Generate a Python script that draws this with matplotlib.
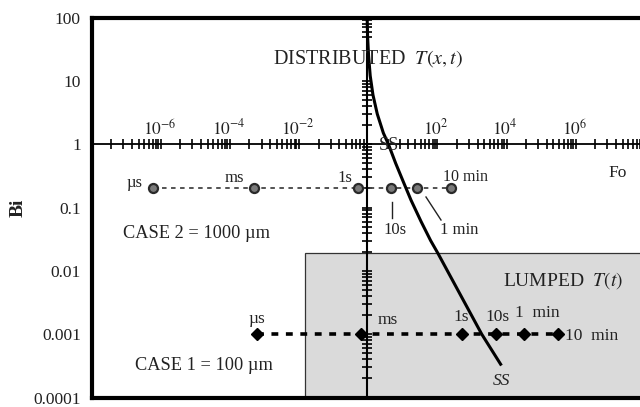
import numpy as np
import matplotlib
matplotlib.use("Agg")
import matplotlib.pyplot as plt
from matplotlib.patches import Rectangle

plt.rcParams['font.family'] = ['Liberation Serif', 'DejaVu Serif']
plt.rcParams['mathtext.fontset'] = 'stix'

# ---------------- data ----------------
# steady-state (SS) boundary: Bi vs Fo
ss_bi = [100, 50, 25, 12, 6, 3, 1.5, 1.0, 0.5, 0.25, 0.13, 0.06, 0.03, 0.019, 0.001, 0.00032]
ss_fo = [1.02, 1.05, 1.12, 1.25, 1.5, 2.0, 3.0, 4.2, 6.8, 11.5, 19, 37, 70, 113, 2100, 7800]

# time markers
case2_labels = ["µs", "ms", "1s", "10s", "1 min", "10 min"]
case2_bi = 0.2
case2_fo = [6.6e-7, 5.5e-4, 0.56, 4.9, 29, 280]
case1_labels = ["µs", "ms", "1s", "10s", "1  min", "10  min"]
case1_bi = 0.001
case1_fo = [6.5e-4, 0.66, 550, 5600, 35000, 3.4e5]

# lumped region bounds
lumped_fo_min = 0.016
lumped_bi_max = 0.019

# axes
ytick_vals = [1e-4, 1e-3, 1e-2, 1e-1, 1, 10, 100]
ytick_labels = ["0.0001", "0.001", "0.01", "0.1", "1", "10", "100"]
fo_label_exps = [-6, -4, -2, 2, 4, 6]

W, H = 640, 407
fig = plt.figure(figsize=(W / 100, H / 100), dpi=100)
ax = fig.add_axes([92 / W, (H - 397.5) / H, (W - 92) / W, 380 / H])
ax.set_xscale('log')
ax.set_yscale('log')
ax.set_xlim(10 ** -7.95, 10 ** 7.9)
ax.set_ylim(1e-4, 100)

for s in ['left', 'top', 'bottom']:
    ax.spines[s].set_linewidth(3)
ax.spines['right'].set_visible(False)
ax.set_xticks([])
ax.set_xticks([], minor=True)
ax.set_yticks(ytick_vals)
ax.set_yticklabels(ytick_labels, fontsize=12.5, color='#222222')
ax.yaxis.set_minor_locator(matplotlib.ticker.NullLocator())
ax.tick_params(axis='y', length=0, pad=8)
ax.set_ylabel("Bi", fontsize=14, fontweight='bold', labelpad=5, color='#222222')

# lumped region
ax.add_patch(Rectangle((lumped_fo_min, 1e-5), 1e10, lumped_bi_max - 1e-5,
                       facecolor='#dadada', edgecolor='#333333', lw=0.9, zorder=0))

# Fo axis (at Bi = 1) and Bi axis (at Fo = 1)
ax.axhline(1, color='black', lw=1.3, zorder=2)
ax.axvline(1, color='black', lw=1.5, zorder=2)

# Fo axis ticks: log-cycle per two decades
minor_fo = []
major_fo = []
for e in range(-8, 9, 2):
    if e != 0:
        major_fo.append(10.0 ** e)
    for k in range(2, 10):
        minor_fo.append(10.0 ** (e + 2 * np.log10(k)))
ax.plot(minor_fo, [1] * len(minor_fo), ls='none', marker='|', ms=6.5, mew=1.2,
        color='black', zorder=3)
for f in (10 ** -0.04, 10 ** 0.04):
    ax.plot([m * f for m in major_fo], [1] * len(major_fo), ls='none', marker='|',
            ms=7.5, mew=1.2, color='black', zorder=3)
for e in fo_label_exps:
    ax.text(10.0 ** e, 1.22, r"$10^{%d}$" % e, fontsize=12.5, ha='center', va='bottom',
            color='#222222')

# Bi ticks on the vertical line
bi_ticks = []
for e in range(-4, 2):
    for k in range(1, 10):
        v = k * 10.0 ** e
        if 18 < v < 50:
            continue
        bi_ticks.append(v)
ax.plot([1] * len(bi_ticks), bi_ticks, ls='none', marker='_', ms=7, mew=1.2,
        color='black', zorder=3)

# SS curve
ax.plot(ss_fo, ss_bi, color='black', lw=2.2, zorder=5, solid_capstyle='butt')

# Case 2 (circles)
ax.plot(case2_fo, [case2_bi] * len(case2_fo), color='#444444', lw=1.3,
        dashes=(2.5, 2.5), zorder=4)
ax.plot(case2_fo, [case2_bi] * len(case2_fo), ls='none', marker='o', ms=6.5,
        mfc='#7a7a7a', mec='#2a2a2a', mew=1.6, zorder=6)

# Case 1 (diamonds)
ax.plot(case1_fo, [case1_bi] * len(case1_fo), color='black', lw=2.6,
        dashes=(1.9, 2.1), zorder=4)
ax.plot(case1_fo, [case1_bi] * len(case1_fo), ls='none', marker='D', ms=6,
        color='black', zorder=6)

# ---------- texts (figure pixel positions) ----------
def ftext(x, y, s, **kw):
    kw.setdefault('fontsize', 12)
    kw.setdefault('ha', 'left')
    kw.setdefault('va', 'center')
    fig.text(x / W, 1 - y / H, s, color='#222222', **kw)

ftext(273, 59, r"DISTRIBUTED  $T(x,t)$", fontsize=14.5)
ftext(503, 281, r"LUMPED  $T(t)$", fontsize=14)
ftext(608, 173, "Fo", fontsize=12.5)
ftext(123, 233, "CASE 2 = 1000 µm", fontsize=13.2)
ftext(135, 366, "CASE 1 = 100 µm", fontsize=13.2)
ftext(379, 146, "SS", fontsize=13)
ftext(493, 381, "SS", style='italic', fontsize=12.5)

# case 2 labels
case2_pos = [(127, 183), (225, 178), (337, 178), (383, 230), (440, 230), (443, 177)]
for (x, y), s in zip(case2_pos, case2_labels):
    ftext(x, y, s, fontsize=11.5 if s == "10 min" else 12)
# case 1 labels
case1_pos = [(248, 319), (378, 320), (453, 317), (485, 317), (515, 313), (565, 336)]
for (x, y), s in zip(case1_pos, case1_labels):
    ftext(x, y, s, fontsize=12.5)

# leader lines for case 2 (10s and 1 min)
fig.add_artist(plt.Line2D([391.7 / W, 391.7 / W], [1 - 202 / H, 1 - 218 / H],
                          color='#222222', lw=1))
fig.add_artist(plt.Line2D([426 / W, 441 / W], [1 - 197 / H, 1 - 220 / H],
                          color='#222222', lw=1))

fig.savefig("out.png", dpi=100)
